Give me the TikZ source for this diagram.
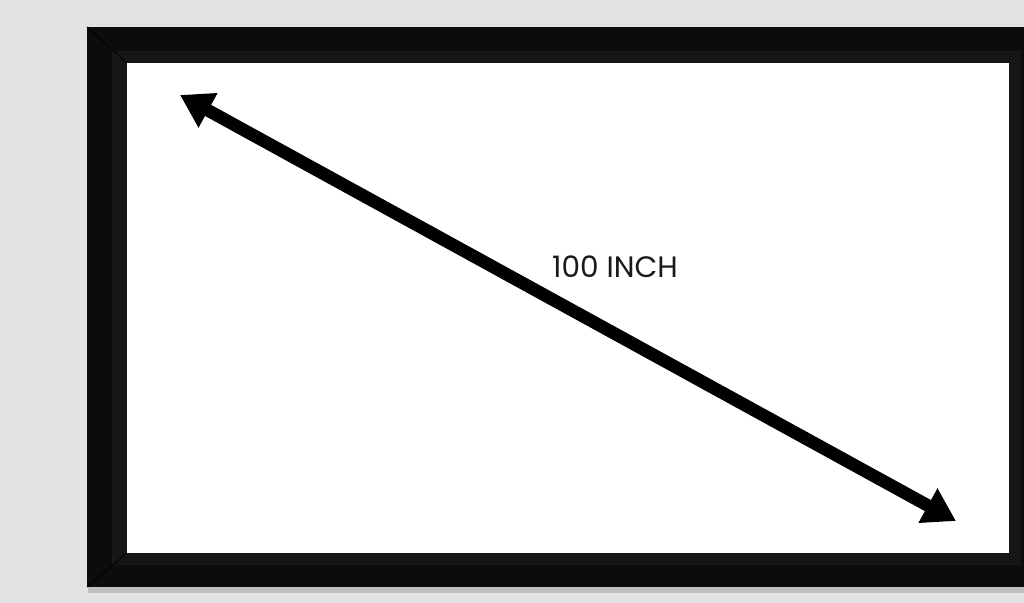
\documentclass[tikz,border=0pt]{standalone}
\usepackage{fontspec}
\setmainfont{Poppins}
\usetikzlibrary{arrows.meta}
\pgfdeclarelayer{bg}
\pgfsetlayers{bg,main}
\definecolor{wallgray}{HTML}{E2E2E2}
\definecolor{framedark}{HTML}{0C0C0C}
\definecolor{framerim}{HTML}{161616}
\tikzset{
        diag/.style={line width=9pt, {Triangle[length=0.8cm,width=0.93cm]}-{Triangle[length=0.8cm,width=0.93cm]}},
        size label/.style={font=\fontsize{21}{22}\selectfont, text=black!90, inner sep=0pt}
}
\begin{document}
\begin{tikzpicture}
        \useasboundingbox (0cm, 0cm) rectangle (25.600000cm, 15.075000cm);
        \coordinate (tl) at (4.500000cm, 12.700000cm);
        \coordinate (br) at (23.900000cm, 2.050000cm);
        \node (size) [size label] at (15.375000cm, 8.400000cm) {100 INCH};
        \begin{pgfonlayer}{bg}
                \fill [wallgray] (0cm, 0cm) rectangle (25.600000cm, 15.075000cm);
                \fill [black!25] (2.200000cm, 0.250000cm) rectangle (26.000000cm, 0.420000cm);
                \fill [framedark] (2.175000cm, 0.400000cm) rectangle (26.300000cm, 14.400000cm);
                \fill [framerim] (2.800000cm, 0.950000cm) rectangle (25.525000cm, 13.800000cm);
                \draw [black, line width=0.6pt] (2.175000cm, 14.400000cm) -- (3.175000cm, 13.500000cm);
                \draw [black, line width=0.6pt] (2.175000cm, 0.400000cm) -- (3.175000cm, 1.250000cm);
                \fill [white] (3.175000cm, 1.250000cm) rectangle (25.225000cm, 13.500000cm);
        \end{pgfonlayer}
        \draw [diag] (tl) -- (br);
\end{tikzpicture}
\end{document}
